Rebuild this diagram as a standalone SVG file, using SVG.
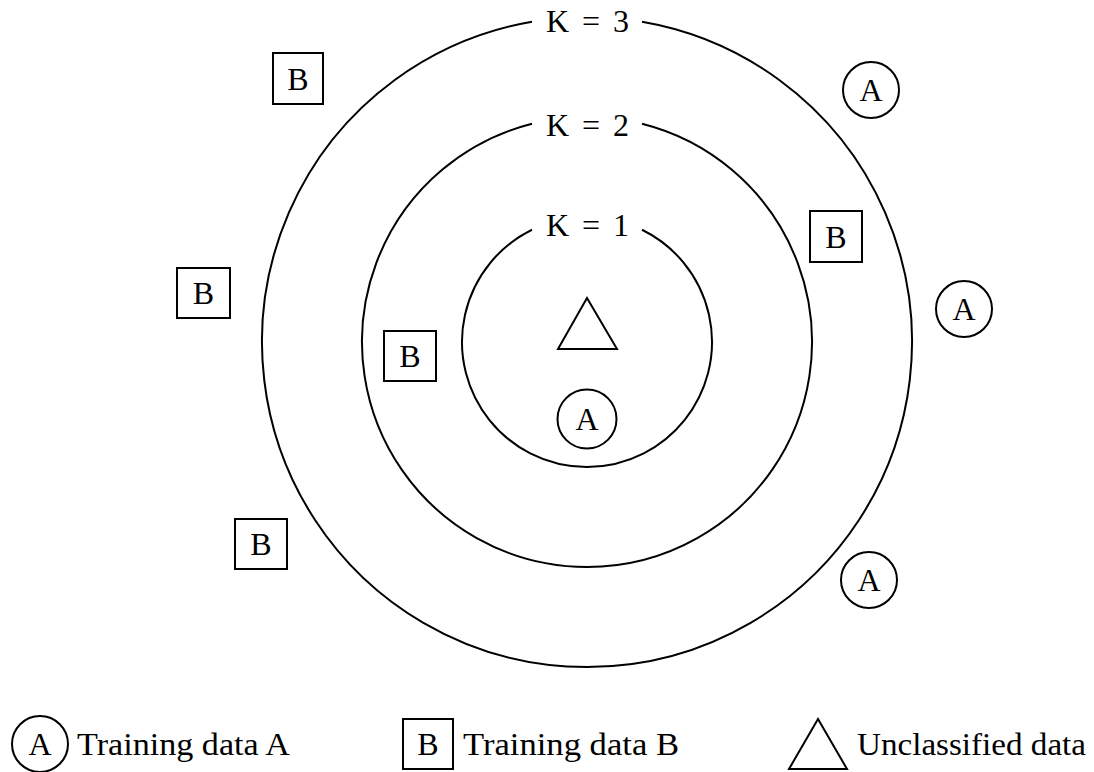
<svg xmlns="http://www.w3.org/2000/svg" width="1094" height="772" viewBox="0 0 1094 772">
<style>
.s{fill:none;stroke:#000;stroke-width:2}
.bx{fill:#fff;stroke:#000;stroke-width:2}
.t{font-family:"Liberation Serif","DejaVu Serif",serif;font-size:32px;fill:#000}
.c{text-anchor:middle}
</style>
<rect width="1094" height="772" fill="#fff"/>
<g id="rings">
<g id="k1"><path class="s" d="M532 229.75 A125 125 0 1 0 642 229.75"/><text class="t" x="546" y="236" textLength="83" lengthAdjust="spacing">K = 1</text></g>
<g id="k2"><path class="s" d="M532 123.8 A225 225 0 1 0 642 123.8"/><text class="t" x="546" y="136" textLength="83" lengthAdjust="spacing">K = 2</text></g>
<g id="k3"><path class="s" d="M532 21.7 A325 325 0 1 0 642 21.7"/><text class="t" x="546" y="32" textLength="83" lengthAdjust="spacing">K = 3</text></g>
</g>
<g id="query"><polygon class="s" points="587,298 558,349 617,349"/></g>
<g id="a1"><circle class="s" cx="587" cy="419" r="29.5"/><text class="t c" x="587" y="430">A</text></g>
<g id="a2"><circle class="s" cx="871" cy="90" r="28"/><text class="t c" x="871" y="101">A</text></g>
<g id="a3"><circle class="s" cx="964" cy="309" r="28"/><text class="t c" x="964" y="320">A</text></g>
<g id="a4"><circle class="s" cx="869" cy="580" r="28"/><text class="t c" x="869" y="591">A</text></g>
<g id="b1"><rect class="bx" x="273" y="53" width="50" height="51"/><text class="t c" x="298" y="90">B</text></g>
<g id="b2"><rect class="bx" x="177" y="268" width="53" height="50"/><text class="t c" x="203.5" y="304">B</text></g>
<g id="b3"><rect class="bx" x="384" y="331" width="52" height="50"/><text class="t c" x="410" y="367">B</text></g>
<g id="b4"><rect class="bx" x="235" y="519" width="52" height="50"/><text class="t c" x="261" y="555">B</text></g>
<g id="b5"><rect class="bx" x="810" y="211" width="52" height="51"/><text class="t c" x="836" y="248">B</text></g>
<g id="legend">
<g id="legA"><circle class="s" cx="40" cy="744" r="28"/><text class="t c" x="40" y="755">A</text><text class="t" x="77" y="755" textLength="213" lengthAdjust="spacingAndGlyphs">Training data A</text></g>
<g id="legB"><rect class="bx" x="403" y="719" width="50" height="50"/><text class="t c" x="428" y="755">B</text><text class="t" x="463" y="755" textLength="216" lengthAdjust="spacingAndGlyphs">Training data B</text></g>
<g id="legU"><polygon class="s" points="818,719 789,769 847,769"/><text class="t" x="857" y="755" textLength="229" lengthAdjust="spacingAndGlyphs">Unclassified data</text></g>
</g>
</svg>
